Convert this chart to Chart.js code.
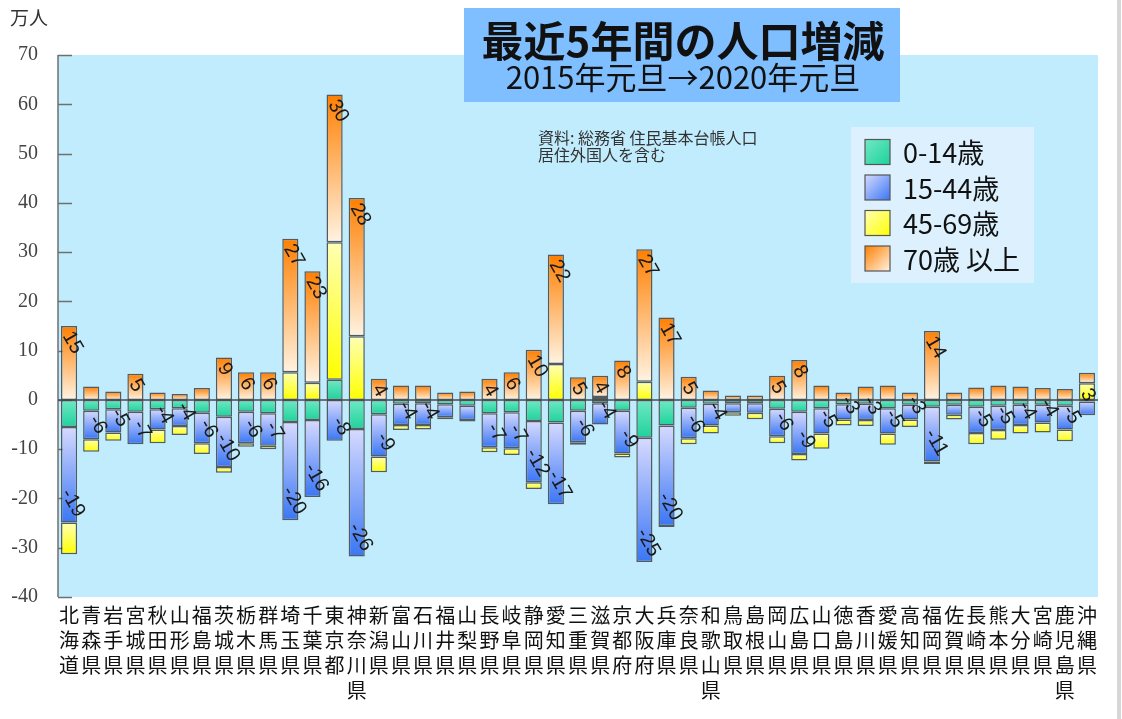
<!DOCTYPE html>
<html lang="ja">
<head>
<meta charset="utf-8">
<title>最近5年間の人口増減</title>
<script src="https://cdn.jsdelivr.net/npm/chart.js@4/dist/chart.umd.min.js"></script>
<style>
  html, body { margin: 0; padding: 0; background: #fff; }
  #chart { display: block; }
</style>
</head>
<body>
<canvas id="chart" width="1122" height="719"></canvas>
<script>
// 都道府県
const prefectures = [
  '北海道', '青森県', '岩手県', '宮城県', '秋田県', '山形県', '福島県', '茨城県', '栃木県', '群馬県',
  '埼玉県', '千葉県', '東京都', '神奈川県', '新潟県', '富山県', '石川県', '福井県', '山梨県', '長野県',
  '岐阜県', '静岡県', '愛知県', '三重県', '滋賀県', '京都府', '大阪府', '兵庫県', '奈良県', '和歌山県',
  '鳥取県', '島根県', '岡山県', '広島県', '山口県', '徳島県', '香川県', '愛媛県', '高知県', '福岡県',
  '佐賀県', '長崎県', '熊本県', '大分県', '宮崎県', '鹿児島県', '沖縄県'
];

// 増減 (万人), 2015年元旦 -> 2020年元旦
const age0to14 = [
  -5.5, -2.2, -1.9, -2.4, -1.9, -1.7, -2.6, -3.4, -2.4, -2.7,
  -4.5, -4.1, 4.1, -5.9, -2.9, -0.8, -0.7, -0.9, -1.2, -2.7,
  -2.5, -4.3, -4.6, -2.2, -0.7, -2.2, -7.7, -5.2, -1.6, -0.8,
  -0.7, -0.7, -1.8, -2.4, -1.7, -0.9, -0.8, -1.7, -1.0, -1.4,
  -1.0, -1.4, -1.2, -1.0, -1.0, -1.2, -0.3
];
const age15to44 = [
  -19.4, -5.8, -4.7, -6.6, -4.1, -3.6, -6.2, -10.2, -6.4, -6.6,
  -19.9, -15.6, -8.3, -25.9, -8.6, -4.3, -4.4, -2.6, -2.9, -6.9,
  -7.3, -12.4, -16.6, -6.4, -4.3, -8.7, -25.2, -20.4, -6.2, -4.4,
  -1.8, -1.9, -5.6, -8.6, -5.1, -3.1, -3.3, -5.1, -3.0, -11.1,
  -2.0, -5.3, -4.9, -4.1, -3.6, -4.8, -2.8
];
const age45to69 = [
  -6.4, -2.5, -1.7, 0, -2.8, -1.8, -2.2, -1.2, -0.7, -0.7,
  5.6, 3.5, 27.9, 12.9, -3.2, -1.0, -0.9, -0.4, -0.3, -1.0,
  -1.4, -1.4, 7.3, -0.5, 0.6, -0.8, 3.7, -0.2, -1.2, -1.6,
  -0.7, -1.3, -1.4, -1.3, -3.1, -1.2, -1.2, -2.3, -1.5, -0.5,
  -1.0, -2.3, -2.0, -1.7, -2.0, -2.4, 3.4
];
const age70plus = [
  15.0, 2.7, 1.7, 5.3, 1.5, 1.2, 2.4, 8.6, 5.6, 5.6,
  27.1, 22.6, 30.0, 28.1, 4.3, 2.9, 2.9, 1.5, 1.7, 4.3,
  5.6, 10.2, 22.2, 4.6, 4.3, 8.0, 26.9, 16.7, 4.7, 1.9,
  0.9, 0.9, 4.9, 8.1, 2.9, 1.5, 2.7, 2.9, 1.5, 14.0,
  1.5, 2.5, 2.9, 2.7, 2.4, 2.2, 2.1
];

const seriesNames = ['0-14歳', '15-44歳', '45-69歳', '70歳 以上'];
const yMin = -40;
const yMax = 70;
const yStep = 10;

const seriesValues = [age0to14, age15to44, age45to69, age70plus];

// グラデーション (上 -> 下)
const fills = [
  ['#6fe8c4', '#1fd29b'],
  ['#d6daff', '#3a76f4'],
  ['#ffffb4', '#ffff00'],
  ['#ff7f00', '#fff3e2']
];

function segmentRange(d, i) {
  const v = seriesValues[d][i];
  let start = 0;
  for (let k = 0; k < d; k++) {
    const w = seriesValues[k][i];
    if ((v >= 0 && w > 0) || (v < 0 && w < 0)) start += w;
  }
  return [start, start + v];
}

function segmentFill(d) {
  return function (ctx) {
    const chart = ctx.chart;
    const y = chart.scales.y;
    if (!chart.chartArea || !y || ctx.type !== 'data') return fills[d][1];
    const r = segmentRange(d, ctx.dataIndex);
    const p0 = y.getPixelForValue(r[0]);
    const p1 = y.getPixelForValue(r[1]);
    const top = Math.min(p0, p1);
    const bottom = Math.max(p0, p1);
    if (bottom - top < 1) return fills[d][1];
    const g = chart.ctx.createLinearGradient(0, top, 0, bottom);
    g.addColorStop(0, fills[d][0]);
    g.addColorStop(1, fills[d][1]);
    return g;
  };
}

// 背景と軸
const backdrop = {
  id: 'backdrop',
  beforeDraw(chart) {
    const ctx = chart.ctx;
    const a = chart.chartArea;
    const y = chart.scales.y;
    ctx.save();
    ctx.fillStyle = '#ffffff';
    ctx.fillRect(0, 0, chart.width, chart.height);
    ctx.fillStyle = '#c1ecfd';
    ctx.fillRect(a.left, a.top, a.right - a.left, a.bottom - a.top);
    // 右端のグレー線
    ctx.fillStyle = '#d6d6d6';
    ctx.fillRect(1117, 0, 4, chart.height);
    // 縦軸
    ctx.strokeStyle = '#6f6f6f';
    ctx.lineWidth = 1.5;
    ctx.beginPath();
    ctx.moveTo(a.left, a.top);
    ctx.lineTo(a.left, a.bottom);
    for (let v = yMin; v <= yMax; v += yStep) {
      const py = Math.round(y.getPixelForValue(v)) + 0.5;
      ctx.moveTo(a.left, py);
      ctx.lineTo(a.left + 14, py);
    }
    ctx.stroke();
    ctx.restore();
  }
};

// ゼロ線と数値ラベル
const barLabels = {
  id: 'barLabels',
  afterDatasetsDraw(chart) {
    const ctx = chart.ctx;
    const a = chart.chartArea;
    const zero = chart.scales.y.getPixelForValue(0);
    ctx.save();
    ctx.strokeStyle = '#4a4a4a';
    ctx.lineWidth = 1.5;
    ctx.beginPath();
    ctx.moveTo(a.left, zero);
    ctx.lineTo(a.right, zero);
    ctx.stroke();

    ctx.font = '20px "Liberation Sans", Arial, sans-serif';
    ctx.fillStyle = '#1a1a1a';
    ctx.textBaseline = 'middle';
    prefectures.forEach(function (p, i) {
      let posD = -1;
      let negD = -1;
      seriesValues.forEach(function (vals, d) {
        const v = vals[i];
        if (v > 0 && (posD < 0 || v > seriesValues[posD][i])) posD = d;
        if (v < 0 && (negD < 0 || v < seriesValues[negD][i])) negD = d;
      });
      [posD, negD].forEach(function (d) {
        if (d < 0) return;
        const v = seriesValues[d][i];
        if (Math.abs(v) < 3) return;
        const el = chart.getDatasetMeta(d).data[i];
        ctx.save();
        if (v > 0) {
          ctx.translate(el.x - 2, Math.min(el.y, el.base) + 7);
          ctx.textAlign = 'left';
        } else {
          ctx.translate(el.x + 11, Math.max(el.y, el.base) - 7);
          ctx.textAlign = 'right';
        }
        ctx.rotate(Math.PI / 3);
        ctx.fillText(String(Math.round(v)), 0, 0);
        ctx.restore();
      });
    });
    ctx.restore();
  }
};

// タイトル、注記、凡例
const overlay = {
  id: 'overlay',
  afterDraw(chart) {
    const ctx = chart.ctx;
    ctx.save();

    ctx.fillStyle = '#333';
    ctx.font = '19px "Noto Sans CJK JP", sans-serif';
    ctx.textBaseline = 'middle';
    ctx.textAlign = 'left';
    ctx.fillText('万人', 10, 18);

    ctx.fillStyle = '#7fbfff';
    ctx.fillRect(464, 8, 436, 94);
    ctx.fillStyle = '#111';
    ctx.textAlign = 'center';
    ctx.font = 'bold 42px "Noto Sans CJK JP", sans-serif';
    ctx.fillText('最近5年間の人口増減', 683, 41);
    ctx.font = '31px "Noto Sans CJK JP", sans-serif';
    ctx.fillText('2015年元旦→2020年元旦', 683, 77);

    ctx.fillStyle = '#333';
    ctx.textAlign = 'left';
    ctx.font = '16px "Noto Sans CJK JP", sans-serif';
    ctx.fillText('資料: 総務省 住民基本台帳人口', 538, 138);
    ctx.fillText('居住外国人を含む', 538, 155);

    ctx.fillStyle = '#dcf1fd';
    ctx.fillRect(851, 127, 183, 156);
    ctx.font = '27px "Noto Sans CJK JP", sans-serif';
    seriesNames.forEach(function (name, d) {
      const cy = 152 + d * 35.5;
      const x = 865;
      const y = cy - 12.5;
      const g = ctx.createLinearGradient(x, y, x + 25, y + 25);
      g.addColorStop(0, fills[d][0]);
      g.addColorStop(1, fills[d][1]);
      ctx.fillStyle = g;
      ctx.fillRect(x, y, 25, 25);
      ctx.strokeStyle = '#555';
      ctx.lineWidth = 1.2;
      ctx.strokeRect(x, y, 25, 25);
      ctx.fillStyle = '#111';
      ctx.fillText(name, 903, cy + 1);
    });
    ctx.restore();
  }
};

const chart = new Chart(document.getElementById('chart'), {
  type: 'bar',
  data: {
    labels: prefectures,
    datasets: seriesValues.map(function (vals, d) {
      return {
        label: seriesNames[d],
        data: vals,
        backgroundColor: segmentFill(d),
        borderColor: 'rgba(55,55,55,0.8)',
        borderWidth: 1.5,
        borderSkipped: false,
        categoryPercentage: 1,
        barPercentage: 0.73
      };
    })
  },
  options: {
    responsive: false,
    devicePixelRatio: 1,
    animation: false,
    layout: { padding: { top: 55, right: 24, left: 0, bottom: 0 } },
    plugins: {
      legend: { display: false },
      tooltip: { enabled: false }
    },
    scales: {
      x: {
        stacked: true,
        grid: { display: false, drawTicks: false },
        border: { display: false },
        afterFit: function (scale) { scale.height = 122; },
        ticks: {
          autoSkip: false,
          maxRotation: 0,
          minRotation: 0,
          padding: 6,
          color: '#111',
          font: { family: '"Noto Sans CJK JP", sans-serif', size: 20, lineHeight: 1.25 },
          callback: function (value) { return this.getLabelForValue(value).split(''); }
        }
      },
      y: {
        stacked: true,
        min: yMin,
        max: yMax,
        grid: { display: false, drawTicks: false },
        border: { display: false },
        afterFit: function (scale) { scale.width = 58; },
        ticks: {
          stepSize: yStep,
          padding: 20,
          color: '#444',
          font: { family: '"Liberation Serif", serif', size: 20 }
        }
      }
    }
  },
  plugins: [backdrop, barLabels, overlay]
});
</script>
</body>
</html>
